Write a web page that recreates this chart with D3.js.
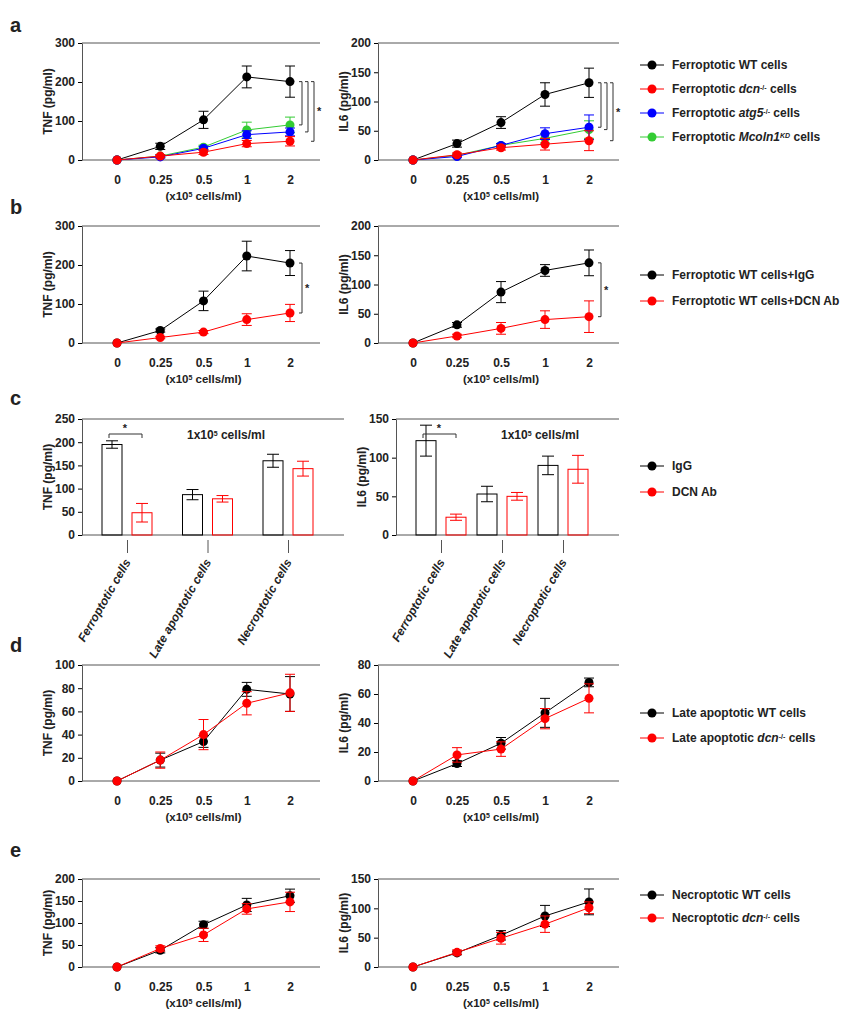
<!DOCTYPE html>
<html><head><meta charset="utf-8">
<script src="https://cdn.jsdelivr.net/npm/d3@7"></script>
<style>
body{margin:0;background:#fff;}
text{font-family:"Liberation Sans",Arial,sans-serif;font-weight:bold;fill:#222;}
</style></head>
<body><svg id="vis" width="865" height="1031"></svg>
<script>
// x categories shared by all dose plots
var doses = ["0","0.25","0.5","1","2"];
var cellTypes = ["Ferroptotic cells","Late apoptotic cells","Necroptotic cells"];

// panel a
var aTnfWT = [0,35,103,213,201], aTnfWTe = [0,8,22,28,40];
var aTnfDcn = [0,10,20,42,48], aTnfDcne = [0,4,6,8,12];
var aTnfAtg = [0,8,30,65,72], aTnfAtge = [0,3,5,10,10];
var aTnfMco = [0,10,33,77,90], aTnfMcoe = [0,3,5,20,20];
var aIlWT = [0,28,64,112,132], aIlWTe = [0,6,10,20,25];
var aIlDcn = [0,9,21,27,33], aIlDcne = [0,3,4,10,17];
var aIlAtg = [0,6,25,45,56], aIlAtge = [0,2,3,10,21];
var aIlMco = [0,8,25,37,52], aIlMcoe = [0,2,3,8,15];
// panel b
var bTnfIgG = [0,32,108,223,205], bTnfIgGe = [0,4,25,38,32];
var bTnfDcn = [0,14,28,60,77], bTnfDcne = [0,3,4,15,22];
var bIlIgG = [0,31,87,124,137], bIlIgGe = [0,4,18,10,22];
var bIlDcn = [0,12,25,40,45], bIlDcne = [0,3,10,15,27];
// panel c
var cTnfIgG = [195,87,160], cTnfIgGe = [8,11,14];
var cTnfDcn = [48,78,143], cTnfDcne = [20,7,16];
var cIlIgG = [122,53,90], cIlIgGe = [20,10,12];
var cIlDcn = [23,50,85], cIlDcne = [4,5,18];
// panel d
var dTnfWT = [0,18,34,79,75], dTnfWTe = [0,6,5,6,15];
var dTnfDcn = [0,18,40,67,76], dTnfDcne = [0,7,13,10,16];
var dIlWT = [0,12,26,47,68], dIlWTe = [0,2,4,10,3];
var dIlDcn = [0,18,22,43,57], dIlDcne = [0,5,5,7,10];
// panel e
var eTnfWT = [0,38,96,141,162], eTnfWTe = [0,6,8,15,15];
var eTnfDcn = [0,42,73,132,148], eTnfDcne = [0,6,15,12,22];
var eIlWT = [0,24,54,87,111], eIlWTe = [0,3,8,18,22];
var eIlDcn = [0,25,49,73,101], eIlDcne = [0,4,10,14,10];

var BLACK="#000", RED="#f00", BLUE="#00f", GREEN="#3c3";
var vis = d3.select("#vis");

function frame(g, x0, x1, top, bot, yMax, ticks, ylab){
  var y = d3.scaleLinear().domain([0,yMax]).range([bot,top]);
  var ax = g.append("g").attr("transform","translate("+x0+",0)")
    .call(d3.axisLeft(y).tickValues(ticks).tickSize(4).tickSizeOuter(0));
  ax.selectAll("text").style("font-size","12px");
  ax.select(".domain").attr("stroke","#555");
  g.append("line").attr("x1",x0).attr("x2",x1).attr("y1",top).attr("y2",top).attr("stroke","#555");
  g.append("line").attr("x1",x0).attr("x2",x1).attr("y1",bot).attr("y2",bot).attr("stroke","#555");
  g.append("text").attr("transform","translate("+(x0-30)+","+((top+bot)/2)+") rotate(-90)")
    .attr("text-anchor","middle").style("font-size","12px").text(ylab);
  return y;
}

function linePlot(x0, x1, top, bot, yMax, ticks, ylab, series){
  var g = vis.append("g");
  var y = frame(g, x0, x1, top, bot, yMax, ticks, ylab);
  var x = d3.scalePoint().domain(doses).range([x0+35, x1-30]);
  var xa = g.append("g").attr("transform","translate(0,"+(bot+8)+")")
    .call(d3.axisBottom(x).tickSize(0));
  xa.select(".domain").remove();
  xa.selectAll("text").style("font-size","12px").attr("dy","1.1em");
  var t = g.append("text").attr("x",(x(doses[0])+x(doses[4]))/2).attr("y",bot+40)
    .attr("text-anchor","middle").style("font-size","11.5px");
  t.append("tspan").text("(x10");
  t.append("tspan").attr("baseline-shift","super").style("font-size","7px").text("5");
  t.append("tspan").text(" cells/ml)");
  var line = d3.line().x(function(d,i){return x(doses[i]);}).y(function(d){return y(d);});
  series.forEach(function(s){
    g.append("path").attr("d",line(s.v)).attr("fill","none").attr("stroke",s.c).attr("stroke-width",1);
    s.v.forEach(function(v,i){
      var e = s.e[i], cx = x(doses[i]);
      if(e>0){
        g.append("line").attr("x1",cx).attr("x2",cx).attr("y1",y(v+e)).attr("y2",y(Math.max(0,v-e))).attr("stroke",s.c);
        [v+e, Math.max(0,v-e)].forEach(function(w){
          g.append("line").attr("x1",cx-5).attr("x2",cx+5).attr("y1",y(w)).attr("y2",y(w)).attr("stroke",s.c);
        });
      }
      g.append("circle").attr("cx",cx).attr("cy",y(v)).attr("r",4.5).attr("fill",s.c);
    });
  });
  return {g:g,x:x,y:y};
}

function brackets(p, pairs){
  var cx = p.x(doses[4]);
  pairs.forEach(function(pr,k){
    var bx = cx + 12 + k*6;
    var y1 = p.y(pr[0]), y2 = p.y(pr[1]);
    p.g.append("path").attr("d","M"+(bx-3)+","+y1+"H"+bx+"V"+y2+"H"+(bx-3)).attr("fill","none").attr("stroke","#333");
  });
  var last = pairs[pairs.length-1];
  var bx2 = cx + 12 + (pairs.length-1)*6;
  p.g.append("text").attr("x",bx2+3).attr("y",(p.y(pairs[0][0])+p.y(last[1]))/2+4).style("font-size","11px").text("*");
}

function legend(x, ys, items){
  items.forEach(function(it,i){
    var g = vis.append("g");
    g.append("line").attr("x1",x).attr("x2",x+24).attr("y1",ys[i]).attr("y2",ys[i]).attr("stroke",it.c);
    g.append("circle").attr("cx",x+12).attr("cy",ys[i]).attr("r",4.5).attr("fill",it.c);
    var t = g.append("text").attr("x",x+32).attr("y",ys[i]+4).style("font-size","12px");
    it.t.forEach(function(p){
      var s = t.append("tspan").text(p[0]);
      if(p[1]=="i") s.style("font-style","italic");
      if(p[1]=="s") s.attr("baseline-shift","super").style("font-size","7px");
      if(p[1]=="si") s.attr("baseline-shift","super").style("font-size","7px").style("font-style","italic");
    });
  });
}

function panelLabel(l, y){
  vis.append("text").attr("x",10).attr("y",y).style("font-size","20px").text(l);
}

// ---- a
panelLabel("a",32);
var pa1 = linePlot(82,320,43,160,300,[0,100,200,300],"TNF (pg/ml)",[
  {v:aTnfWT,e:aTnfWTe,c:BLACK},{v:aTnfMco,e:aTnfMcoe,c:GREEN},{v:aTnfAtg,e:aTnfAtge,c:BLUE},{v:aTnfDcn,e:aTnfDcne,c:RED}]);
brackets(pa1,[[201,90],[201,72],[201,48]]);
var pa2 = linePlot(378,619,43,160,200,[0,50,100,150,200],"IL6 (pg/ml)",[
  {v:aIlWT,e:aIlWTe,c:BLACK},{v:aIlMco,e:aIlMcoe,c:GREEN},{v:aIlAtg,e:aIlAtge,c:BLUE},{v:aIlDcn,e:aIlDcne,c:RED}]);
brackets(pa2,[[132,56],[132,52],[132,33]]);
legend(640,[65,89,113,137],[
  {c:BLACK,t:[["Ferroptotic WT cells"]]},
  {c:RED,t:[["Ferroptotic "],["dcn","i"],["-/-","s"],[" cells"]]},
  {c:BLUE,t:[["Ferroptotic "],["atg5","i"],["-/-","s"],[" cells"]]},
  {c:GREEN,t:[["Ferroptotic "],["Mcoln1","i"],["KD","si"],[" cells"]]}]);

// ---- b
panelLabel("b",214);
var pb1 = linePlot(82,320,226,343,300,[0,100,200,300],"TNF (pg/ml)",[
  {v:bTnfIgG,e:bTnfIgGe,c:BLACK},{v:bTnfDcn,e:bTnfDcne,c:RED}]);
brackets(pb1,[[205,77]]);
var pb2 = linePlot(378,619,226,343,200,[0,50,100,150,200],"IL6 (pg/ml)",[
  {v:bIlIgG,e:bIlIgGe,c:BLACK},{v:bIlDcn,e:bIlDcne,c:RED}]);
brackets(pb2,[[137,45]]);
legend(640,[275,301],[
  {c:BLACK,t:[["Ferroptotic WT cells+IgG"]]},
  {c:RED,t:[["Ferroptotic WT cells+DCN Ab"]]}]);

// ---- c
panelLabel("c",405);
function barPlot(x0, x1, yMax, ticks, ylab, igg, igge, dcn, dcne){
  var top=419, bot=535, g = vis.append("g");
  var y = frame(g, x0, x1, top, bot, yMax, ticks, ylab);
  var x = d3.scalePoint().domain(cellTypes).range([x0+45, x1-56]);
  var xa = g.append("g").attr("transform","translate(0,"+(bot+4)+")")
    .call(d3.axisBottom(x).tickSize(14));
  xa.select(".domain").remove();
  xa.selectAll("line").attr("stroke","#555").attr("y1",1);
  xa.selectAll("text").style("font-size","12px").style("font-style","italic")
    .attr("text-anchor","end").attr("transform","translate(0,14) rotate(-60)").attr("dx","-0.5em").attr("dy","0.3em").attr("y",4);
  [[igg,igge,-15,BLACK],[dcn,dcne,15,RED]].forEach(function(s){
    s[0].forEach(function(v,i){
      var cx = x(cellTypes[i])+s[2];
      g.append("rect").attr("x",cx-10).attr("width",20).attr("y",y(v)).attr("height",bot-y(v))
        .attr("fill","none").attr("stroke",s[3]);
      g.append("line").attr("x1",cx).attr("x2",cx).attr("y1",y(v+s[1][i])).attr("y2",y(v-s[1][i])).attr("stroke",s[3]);
      [v+s[1][i],v-s[1][i]].forEach(function(w){
        g.append("line").attr("x1",cx-6).attr("x2",cx+6).attr("y1",y(w)).attr("y2",y(w)).attr("stroke",s[3]);
      });
    });
  });
  var fx = x(cellTypes[0]);
  g.append("path").attr("d","M"+(fx-18)+","+(top+19)+"V"+(top+15)+"H"+(fx+15)+"V"+(top+19)).attr("fill","none").attr("stroke","#333");
  g.append("text").attr("x",fx-2).attr("y",top+13).attr("text-anchor","middle").style("font-size","11px").text("*");
  var t = g.append("text").attr("x",fx+60).attr("y",top+20).style("font-size","12px");
  t.append("tspan").text("1x10");
  t.append("tspan").attr("baseline-shift","super").style("font-size","7px").text("5");
  t.append("tspan").text(" cells/ml");
}
barPlot(82,344,250,[0,50,100,150,200,250],"TNF (pg/ml)",cTnfIgG,cTnfIgGe,cTnfDcn,cTnfDcne);
barPlot(396,619,150,[0,50,100,150],"IL6 (pg/ml)",cIlIgG,cIlIgGe,cIlDcn,cIlDcne);
legend(640,[466,492],[{c:BLACK,t:[["IgG"]]},{c:RED,t:[["DCN Ab"]]}]);

// ---- d
panelLabel("d",652);
linePlot(82,320,665,781,100,[0,20,40,60,80,100],"TNF (pg/ml)",[
  {v:dTnfWT,e:dTnfWTe,c:BLACK},{v:dTnfDcn,e:dTnfDcne,c:RED}]);
linePlot(378,619,665,781,80,[0,20,40,60,80],"IL6 (pg/ml)",[
  {v:dIlWT,e:dIlWTe,c:BLACK},{v:dIlDcn,e:dIlDcne,c:RED}]);
legend(640,[713,738],[
  {c:BLACK,t:[["Late apoptotic WT cells"]]},
  {c:RED,t:[["Late apoptotic "],["dcn","i"],["-/-","s"],[" cells"]]}]);

// ---- e
panelLabel("e",857);
linePlot(82,320,879,967,200,[0,50,100,150,200],"TNF (pg/ml)",[
  {v:eTnfWT,e:eTnfWTe,c:BLACK},{v:eTnfDcn,e:eTnfDcne,c:RED}]);
linePlot(378,619,879,967,150,[0,50,100,150],"IL6 (pg/ml)",[
  {v:eIlWT,e:eIlWTe,c:BLACK},{v:eIlDcn,e:eIlDcne,c:RED}]);
legend(640,[895,918],[
  {c:BLACK,t:[["Necroptotic WT cells"]]},
  {c:RED,t:[["Necroptotic "],["dcn","i"],["-/-","s"],[" cells"]]}]);
</script></body></html>
